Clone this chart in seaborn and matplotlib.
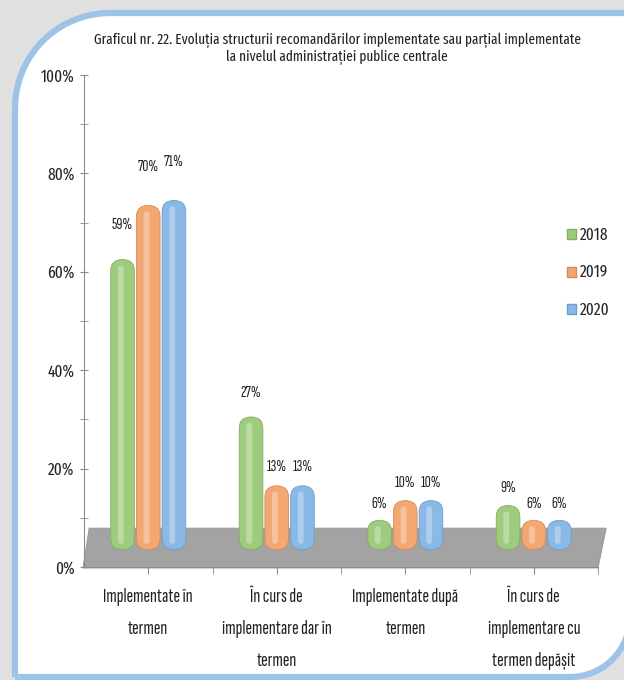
import numpy as np
import pandas as pd
import matplotlib
matplotlib.use("Agg")
import matplotlib.pyplot as plt
import seaborn as sns
from matplotlib.patches import FancyBboxPatch, PathPatch, Polygon, Patch
from matplotlib.path import Path
from matplotlib.ticker import MultipleLocator, FixedLocator

# Data
categories = ["Implementate în\ntermen",
              "În curs de\nimplementare dar în\ntermen",
              "Implementate după\ntermen",
              "În curs de\nimplementare cu\ntermen depășit"]
years = ["2018", "2019", "2020"]
values_2018 = [59, 27, 6, 9]
values_2019 = [70, 13, 10, 6]
values_2020 = [71, 13, 10, 6]
y_ticks = [0, 20, 40, 60, 80, 100]
title = ("Graficul nr. 22. Evoluția structurii recomandărilor implementate sau parțial implementate\n"
         "la nivelul administrației publice centrale")

df = pd.DataFrame({
    "categorie": categories * 3,
    "an": [y for y in years for _ in categories],
    "valoare": values_2018 + values_2019 + values_2020,
})

colors = {"2018": "#9dcc7e", "2019": "#f3a772", "2020": "#8bb9e5"}
edges = {"2018": "#80b060", "2019": "#d98a55", "2020": "#6d9dd0"}
depth = 3.5  # 3D floor offset in percent

sns.set_style("white")
narrow = ["Fira Sans Extra Condensed", "Archivo Narrow", "DejaVu Sans"]
squeezed = ["Sofia Sans Extra Condensed", "Carlito", "DejaVu Sans"]
plt.rcParams["font.family"] = narrow

W, H = 624, 680
fig = plt.figure(figsize=(W / 100, H / 100), dpi=100)
fig.patch.set_facecolor("#e0e0e0")


def fp(x, y):
    return (x / W, 1 - y / H)


# rounded frame (pixel layout -> figure fraction)
r1, r2 = 95, 60
pts = [fp(15, 677), fp(15, 13 + r1)]
for t in np.linspace(np.pi, np.pi / 2, 20):
    pts.append(fp(15 + r1 + r1 * np.cos(t), 13 + r1 - r1 * np.sin(t)))
pts += [fp(632, 13), fp(632, 617)]
for t in np.linspace(0, -np.pi / 2, 20):
    pts.append(fp(570 + r2 * np.cos(t), 617 - r2 * np.sin(t)))
pts.append(fp(15, 677))
frame = PathPatch(Path(pts), facecolor="white", edgecolor="#9dc3e6", lw=4.5,
                  transform=fig.transFigure, zorder=0)
fig.add_artist(frame)

ax = fig.add_axes([84 / W, 113 / H, 514 / W, 492 / H])
ax.set_facecolor("none")

sns.barplot(data=df, x="categorie", y="valoare", hue="an", palette=colors,
            width=0.6, bottom=depth, legend=False, ax=ax)

ax.set_xlim(-0.5, 3.5)
ax.set_ylim(0, 100)

# floor of the 3D plot
floor = Polygon([(0.01, 0.079), (1.016, 0.079), (1.0, -0.002), (-0.002, -0.002)],
                closed=True, transform=ax.transAxes, facecolor="#a3a3a3",
                edgecolor="#959595", lw=0.6, clip_on=False, zorder=0.5)
ax.add_patch(floor)

# replace flat bars with capsule shapes
bars = [b for b in ax.patches if b is not floor]
asp = 25
for i, b in enumerate(bars):
    yr = years[i // len(categories)]
    x, y0 = b.get_x(), b.get_y()
    w, h = b.get_width(), b.get_height()
    nw = w * 0.92
    nx = x + (w - nw) / 2
    cap = FancyBboxPatch((nx, y0), nw, h,
                         boxstyle=f"round,pad=0,rounding_size={nw / 2}",
                         mutation_aspect=asp, facecolor=colors[yr],
                         edgecolor=edges[yr], lw=0.6, zorder=3)
    ax.add_patch(cap)
    hl = FancyBboxPatch((nx + nw * 0.3, y0 + 1.2), nw * 0.25, h - 2.4,
                        boxstyle=f"round,pad=0,rounding_size={nw * 0.125}",
                        mutation_aspect=asp, facecolor="white", alpha=0.3,
                        edgecolor="none", zorder=3.5)
    ax.add_patch(hl)
    b.set_visible(False)
    # labels sit higher on taller bars (3D perspective)
    off = (14 + 0.35 * h) * 0.72
    ax.annotate(f"{h:.0f}%", (x + w / 2, y0 + h), xytext=(0, off),
                textcoords="offset points", ha="center", va="center",
                fontsize=12, color="#222222", family=squeezed)

sns.despine(ax=ax, top=True, right=True)
for s in ["left", "bottom"]:
    ax.spines[s].set_color("#8c8c8c")
    ax.spines[s].set_linewidth(0.8)

ax.yaxis.set_major_locator(FixedLocator(y_ticks))
ax.yaxis.set_minor_locator(MultipleLocator(10))
ax.set_yticklabels([f"{v}%" for v in y_ticks])
ax.tick_params(axis="y", which="both", direction="inout", length=6,
               color="#8c8c8c", labelsize=12, labelcolor="#222222", pad=4,
               left=True)

ax.xaxis.set_minor_locator(FixedLocator([0.5, 1.5, 2.5, 3.5]))
ax.tick_params(axis="x", which="both", direction="out", length=5,
               color="#8c8c8c", bottom=True)
ax.tick_params(axis="x", which="major", labelsize=14.5, labelcolor="#222222", pad=10)
for lab in ax.get_xticklabels():
    lab.set_family(squeezed)
    lab.set_linespacing(2.0)
    lab.set_verticalalignment("top")

ax.set_xlabel("")
ax.set_ylabel("")

handles = [Patch(facecolor=colors[y], edgecolor=edges[y]) for y in years]
fig.legend(handles, years, loc="upper left", bbox_to_anchor=fp(552, 212),
           frameon=False, handlelength=0.55, handleheight=0.55, handletextpad=0.2,
           labelspacing=1.3, prop={"family": narrow, "size": 12})

fig.text(337 / W, 1 - 49 / H, title, ha="center", va="center", fontsize=10.4,
         color="#222222", linespacing=1.2)

fig.savefig("out.png", dpi=100, facecolor=fig.get_facecolor())
